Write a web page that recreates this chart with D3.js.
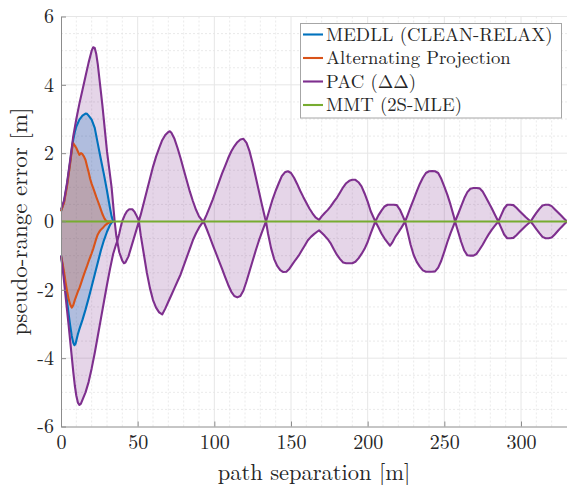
<!DOCTYPE html>
<html>
<head>
<meta charset="utf-8">
<script src="https://cdn.jsdelivr.net/npm/d3@7"></script>
<style>
  body { margin: 0; background: #fff; }
  svg { display: block; }
</style>
</head>
<body>
<svg id="chart" width="567" height="485"></svg>
<script>
// ---- data ----
const xTicks = [0, 50, 100, 150, 200, 250, 300];
const yTicks = [-6, -4, -2, 0, 2, 4, 6];

// PAC (ΔΔ) upper / lower envelope
const pacUpperX = [0,2,4,6,8,10,12,14,16,18,20,21,22,23,24,25,26,27,28,29,30,31,32,33,34,35,36,36.7,38,39,40,41.5,43,44.5,46.5,48,49.5,50.8,52,54,56,58,60,62,64,66,68,70,71,72,74,76,78,80,82,84,86,88,90,92,93,95,97,99,101,103,105,107,109,111,113,115,117,119,121,123,125,127,129,131,133,133.7,136,138,140,142,144,146,148,150,152,154,156,158,160,162,164,166,168.3,170,172,174,176,178,180,182,184,186,188,190,192,194,196,198,200,202,205,207,209,211,213,215,217,219,221,223,224.4,226,228,230,232,234,236,238,240,242,244,246,248,250,252,254,256,257,259,261,263,265,267,269,271,273,275,277,279,281,283,285.2,287,289,291,293,295,297,299,301,303,305,306.3,308,310,312,314,316,318,320,322,324,326,328,330];
const pacUpperY = [0.35,0.62,1.15,1.8,2.5,3.0,3.45,3.85,4.25,4.65,5.0,5.1,5.08,4.9,4.6,4.2,3.8,3.4,2.95,2.5,2.05,1.7,1.35,1.0,0.5,0.0,-0.4,-0.58,-0.35,-0.15,0.02,0.18,0.3,0.36,0.36,0.28,0.15,0.02,0.2,0.55,0.9,1.25,1.6,1.9,2.15,2.38,2.53,2.62,2.64,2.6,2.42,2.15,1.85,1.52,1.2,0.88,0.6,0.35,0.15,0.03,0,0.2,0.42,0.65,0.9,1.15,1.4,1.62,1.85,2.05,2.2,2.32,2.4,2.42,2.3,2.05,1.7,1.3,0.9,0.5,0.12,0,0.35,0.65,0.9,1.12,1.33,1.44,1.47,1.42,1.28,1.1,0.9,0.72,0.55,0.38,0.24,0.12,0.05,0.15,0.25,0.34,0.45,0.58,0.7,0.85,1.0,1.12,1.19,1.22,1.22,1.15,1.03,0.82,0.58,0.3,0,0.18,0.32,0.44,0.49,0.49,0.49,0.48,0.35,0.15,0,0.18,0.42,0.65,0.88,1.1,1.28,1.42,1.47,1.48,1.47,1.42,1.25,1.02,0.78,0.5,0.18,0,0.22,0.45,0.68,0.86,0.96,0.98,0.98,0.97,0.88,0.72,0.55,0.38,0.2,0,0.18,0.38,0.49,0.49,0.48,0.4,0.31,0.22,0.13,0.05,0,0.12,0.25,0.37,0.47,0.49,0.49,0.45,0.36,0.27,0.18,0.09,0];
const pacLowerX = [0,1,2,3,4,5,6,7,8,9,10,11,12,13,14,16,18,20,22,24,26,28,30,32,34,36,36.7,38,40,41,42,44,46,48,50.8,52,54,56,58,60,62,64,66,68,70,72,74,76,78,80,82,84,86,88,90,92,93,95,97,99,101,103,105,107,109,111,113,115,117,119,121,123,125,127,129,131,133,133.7,135,137,139,141,143,145,147,149,151,153,155,157,159,161,163,165,167,168.3,170,172,174,176,178,180,182,184,186,188,190,192,194,196,198,200,202,205,207,209,211,213,214.6,216,218,220,222,224.4,226,228,230,232,234,236,238,240,242,244,246,248,250,252,254,256,257,259,261,263,265,267,269,271,273,275,277,279,281,283,285.2,287,289,291,293,295,297,299,301,303,305,306.3,308,310,312,314,316,318,320,322,324,326,328,330];
const pacLowerY = [-1.0,-1.35,-1.75,-2.2,-2.62,-3.05,-3.5,-3.95,-4.4,-4.8,-5.1,-5.3,-5.37,-5.33,-5.22,-5.0,-4.7,-4.3,-3.85,-3.35,-2.85,-2.35,-1.85,-1.38,-0.95,-0.66,-0.58,-0.9,-1.15,-1.22,-1.2,-1.02,-0.72,-0.42,0,-0.4,-0.95,-1.5,-1.95,-2.3,-2.52,-2.66,-2.72,-2.55,-2.35,-2.15,-1.95,-1.75,-1.55,-1.3,-1.05,-0.8,-0.55,-0.35,-0.18,-0.05,0,-0.22,-0.45,-0.69,-0.92,-1.15,-1.38,-1.62,-1.85,-2.05,-2.18,-2.22,-2.18,-2.02,-1.75,-1.45,-1.15,-0.85,-0.57,-0.32,-0.08,0,-0.35,-0.78,-1.1,-1.3,-1.42,-1.48,-1.47,-1.38,-1.25,-1.12,-1.0,-0.85,-0.7,-0.55,-0.45,-0.37,-0.3,-0.26,-0.33,-0.42,-0.52,-0.65,-0.82,-0.98,-1.1,-1.2,-1.22,-1.22,-1.22,-1.18,-1.08,-0.95,-0.8,-0.6,-0.35,0,-0.17,-0.35,-0.5,-0.62,-0.71,-0.62,-0.45,-0.32,-0.18,0,-0.3,-0.68,-0.98,-1.18,-1.32,-1.43,-1.47,-1.47,-1.47,-1.46,-1.35,-1.15,-0.88,-0.6,-0.35,-0.12,0,-0.3,-0.6,-0.85,-0.99,-1.0,-1.0,-0.95,-0.82,-0.68,-0.52,-0.37,-0.24,-0.12,0,-0.18,-0.38,-0.49,-0.49,-0.48,-0.4,-0.31,-0.22,-0.13,-0.05,0,-0.1,-0.22,-0.34,-0.45,-0.49,-0.49,-0.47,-0.38,-0.28,-0.18,-0.09,0];

// MEDLL (CLEAN-RELAX)
const medllUpperX = [0,2,4,6,7,8,9,10,12,14,16,17,18,20,22,24,26,28,30,32,33,34];
const medllUpperY = [0.3,0.58,1.1,1.75,2.1,2.4,2.62,2.78,2.98,3.1,3.16,3.15,3.1,2.98,2.74,2.28,1.82,1.38,0.9,0.38,0.15,0];
const medllLowerX = [0,1,2,3,4,5,6,7,8,8.7,9.5,10,11,12,14,16,18,20,22,24,26,28,30,32,33,34];
const medllLowerY = [-1.0,-1.28,-1.6,-1.95,-2.35,-2.72,-3.05,-3.35,-3.55,-3.62,-3.58,-3.48,-3.3,-3.15,-2.88,-2.58,-2.25,-1.9,-1.55,-1.2,-0.85,-0.55,-0.3,-0.1,-0.03,0];

// Alternating Projection
const altUpperX = [0,2,4,6,7,7.8,9,10,11,12,13,14,15,16,17,18,19,20,21,22,23,24,25,26,27,28,29,30,33];
const altUpperY = [0.3,0.55,1.05,1.7,2.05,2.3,2.22,2.15,2.05,1.95,2.0,1.97,1.9,1.8,1.62,1.45,1.25,1.1,0.98,0.85,0.72,0.6,0.48,0.35,0.22,0.12,0.04,0,0];
const altLowerX = [0,1,2,3,4,5,6,7,8,9,10,11,12,13,14,15,16,17,18,19,20,21,22,23,24,25,26,27,28,29,30,31,32,33];
const altLowerY = [-1.0,-1.22,-1.48,-1.78,-2.05,-2.28,-2.43,-2.52,-2.45,-2.3,-2.18,-2.05,-1.95,-1.82,-1.68,-1.55,-1.42,-1.3,-1.17,-1.05,-0.93,-0.8,-0.65,-0.5,-0.38,-0.3,-0.24,-0.2,-0.15,-0.1,-0.07,-0.04,-0.02,0];

// MMT (2S-MLE)
const mmtX = [0, 330];
const mmtY = [0, 0];

const legendNames = ["MEDLL (CLEAN-RELAX)", "Alternating Projection", "PAC (\u0394\u0394)", "MMT (2S-MLE)"];
const colors = { medll: "#0072BD", alt: "#D95319", pac: "#7E2F8E", mmt: "#77AC30" };
const serif = "'Latin Modern Roman', 'Liberation Serif', monospace";

// ---- chart ----
const svg = d3.select("#chart");
const width = 567, height = 485;
const margin = { left: 61, right: 0, top: 16.5, bottom: 58.5 };

const x = d3.scaleLinear().domain([0, 330]).range([margin.left, width - margin.right]);
const y = d3.scaleLinear().domain([-6, 6]).range([height - margin.bottom, margin.top]);

const zip = (xs, ys) => xs.map((v, i) => [v, ys[i]]);

// grid
const grid = svg.append("g");
grid.selectAll(".minor-x")
  .data(d3.range(10, 330, 10).filter(d => d % 50 !== 0))
  .enter().append("line")
  .attr("x1", d => x(d)).attr("x2", d => x(d))
  .attr("y1", y(-6)).attr("y2", y(6))
  .attr("stroke", "#e4e4e4").attr("stroke-width", 0.8).attr("stroke-dasharray", "2,2");
grid.selectAll(".minor-y")
  .data(d3.range(-5.5, 6, 0.5).filter(d => Math.abs(d % 2) > 0.01))
  .enter().append("line")
  .attr("x1", x(0)).attr("x2", x(330))
  .attr("y1", d => y(d)).attr("y2", d => y(d))
  .attr("stroke", "#e4e4e4").attr("stroke-width", 0.8).attr("stroke-dasharray", "2,2");
grid.selectAll(".major-x")
  .data(xTicks.slice(1))
  .enter().append("line")
  .attr("x1", d => x(d)).attr("x2", d => x(d))
  .attr("y1", y(-6)).attr("y2", y(6))
  .attr("stroke", "#e6e6e6").attr("stroke-width", 1);
grid.selectAll(".major-y")
  .data(yTicks.slice(1))
  .enter().append("line")
  .attr("x1", x(0)).attr("x2", x(330))
  .attr("y1", d => y(d)).attr("y2", d => y(d))
  .attr("stroke", "#e6e6e6").attr("stroke-width", 1);

// fills (upper path forward + lower path back)
const line = d3.line().x(d => x(d[0])).y(d => y(d[1]));
function band(ux, uy, lx, ly, fill) {
  const pts = zip(ux, uy).concat(zip(lx, ly).reverse());
  svg.append("path").attr("d", line(pts) + "Z").attr("fill", fill).attr("stroke", "none");
}
band(pacUpperX, pacUpperY, pacLowerX, pacLowerY, "rgba(126,47,142,0.2)");
band(medllUpperX, medllUpperY, medllLowerX, medllLowerY, "rgba(0,114,189,0.23)");
band(altUpperX, altUpperY, altLowerX, altLowerY, "rgba(217,83,25,0.23)");

function drawLine(xs, ys, color) {
  svg.append("path")
    .attr("d", line(zip(xs, ys)))
    .attr("fill", "none")
    .attr("stroke", color)
    .attr("stroke-width", 2.1)
    .attr("stroke-linejoin", "round");
}
drawLine(medllUpperX, medllUpperY, colors.medll);
drawLine(medllLowerX, medllLowerY, colors.medll);
drawLine(altUpperX, altUpperY, colors.alt);
drawLine(altLowerX, altLowerY, colors.alt);
drawLine(pacUpperX, pacUpperY, colors.pac);
drawLine(pacLowerX, pacLowerY, colors.pac);
drawLine(mmtX, mmtY, colors.mmt);

// axes
const xAxis = svg.append("g")
  .attr("transform", "translate(0," + y(-6) + ")")
  .call(d3.axisBottom(x).tickValues(xTicks).tickSizeInner(-5).tickSizeOuter(0).tickPadding(8));
const yAxis = svg.append("g")
  .attr("transform", "translate(" + x(0) + ",0)")
  .call(d3.axisLeft(y).tickValues(yTicks).tickSizeInner(-5).tickSizeOuter(0).tickPadding(7)
    .tickFormat(d => d < 0 ? "-" + Math.abs(d) : String(d)));
[xAxis, yAxis].forEach(a => {
  a.attr("font-family", null).attr("font-size", null);
  a.select(".domain").attr("stroke", "#8c8c8c");
  a.selectAll(".tick line").attr("stroke", "#8c8c8c");
  a.selectAll(".tick text")
    .attr("fill", "#262626")
    .style("font-family", serif)
    .style("font-size", "20px");
});

// axis labels
svg.append("text")
  .attr("x", (x(0) + x(330)) / 2).attr("y", 479.6)
  .attr("text-anchor", "middle")
  .attr("fill", "#262626")
  .style("font-family", serif)
  .style("font-size", "22.5px")
  .text("path separation [m]");
svg.append("text")
  .attr("transform", "translate(27," + y(0) + ") rotate(-90)")
  .attr("text-anchor", "middle")
  .attr("fill", "#262626")
  .style("font-family", serif)
  .style("font-size", "23px")
  .text("pseudo-range error [m]");

// legend
const legend = svg.append("g");
legend.append("rect")
  .attr("x", 300.5).attr("y", 23.5).attr("width", 261).attr("height", 94.5)
  .attr("fill", "#fff").attr("stroke", "#a6a6a6").attr("stroke-width", 1);
const legendColors = [colors.medll, colors.alt, colors.pac, colors.mmt];
legendNames.forEach((name, i) => {
  const cy = 34.5 + i * 23.5;
  legend.append("line")
    .attr("x1", 303).attr("x2", 323).attr("y1", cy).attr("y2", cy)
    .attr("stroke", legendColors[i]).attr("stroke-width", 2.1);
  legend.append("text")
    .attr("x", 326).attr("y", cy + 6.3)
    .attr("fill", "#262626")
    .style("font-family", serif)
    .style("font-size", "18.7px")
    .text(name);
});
</script>
</body>
</html>
